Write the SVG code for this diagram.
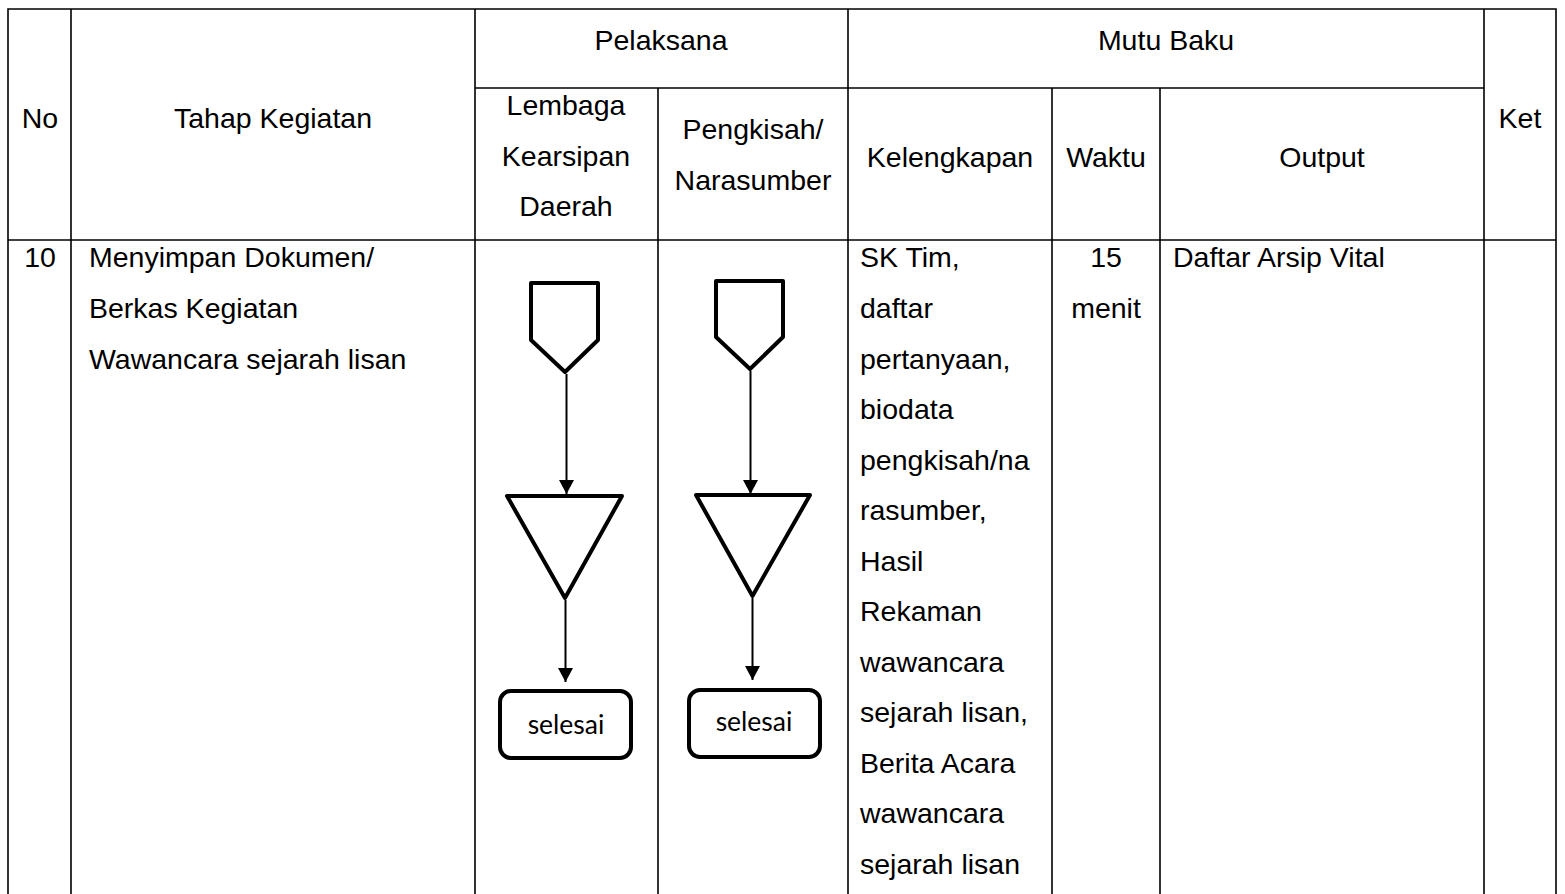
<svg xmlns="http://www.w3.org/2000/svg" width="1565" height="894" viewBox="0 0 1565 894">
<style>
.grid{stroke:#000;stroke-width:1.6;fill:none}
.t{font-family:"Liberation Sans",Arial,sans-serif;font-size:28.5px;fill:#000}
.c{text-anchor:middle}
.shape{fill:#fff;stroke:#000;stroke-width:4;stroke-linejoin:round}
.conn{stroke:#000;stroke-width:2;fill:none}
.lbl{font-family:Lato,"Open Sans",sans-serif;font-size:26.5px;fill:#000;text-anchor:middle}
</style>
<defs>
<marker id="arr" viewBox="0 0 14 15" refX="14" refY="7.5" markerWidth="14" markerHeight="15" markerUnits="userSpaceOnUse" orient="auto">
<path d="M0,0 L14,7.5 L0,15 Z" fill="#000"/>
</marker>
</defs>
<rect width="1565" height="894" fill="#fff"/>
<g id="table">
<path class="grid" d="M8,894 V9 H1556 V894 M71,9 V894 M475,9 V894 M848,9 V894 M1484,9 V894 M475,88 H1484 M658,88 V894 M1052,88 V894 M1160,88 V894 M8,240 H1556"/>
<text class="t c" x="40" y="128">No</text>
<text class="t c" x="273" y="128">Tahap Kegiatan</text>
<text class="t c" x="661" y="50">Pelaksana</text>
<text class="t c" x="1166" y="50">Mutu Baku</text>
<text class="t c" x="1520" y="128">Ket</text>
<text class="t c" x="566" y="115">Lembaga</text>
<text class="t c" x="566" y="166">Kearsipan</text>
<text class="t c" x="566" y="216">Daerah</text>
<text class="t c" x="753" y="139">Pengkisah/</text>
<text class="t c" x="753" y="190">Narasumber</text>
<text class="t c" x="950" y="167">Kelengkapan</text>
<text class="t c" x="1106" y="167">Waktu</text>
<text class="t c" x="1322" y="167">Output</text>
<text class="t c" x="40" y="267">10</text>
<text class="t" x="89" y="267">Menyimpan Dokumen/</text>
<text class="t" x="89" y="318">Berkas Kegiatan</text>
<text class="t" x="89" y="369">Wawancara sejarah lisan</text>
<text class="t" x="860" y="267">SK Tim,</text>
<text class="t" x="860" y="318">daftar</text>
<text class="t" x="860" y="368.5">pertanyaan,</text>
<text class="t" x="860" y="419">biodata</text>
<text class="t" x="860" y="469.5">pengkisah/na</text>
<text class="t" x="860" y="520">rasumber,</text>
<text class="t" x="860" y="570.5">Hasil</text>
<text class="t" x="860" y="621">Rekaman</text>
<text class="t" x="860" y="671.5">wawancara</text>
<text class="t" x="860" y="722">sejarah lisan,</text>
<text class="t" x="860" y="772.5">Berita Acara</text>
<text class="t" x="860" y="823">wawancara</text>
<text class="t" x="860" y="873.5">sejarah lisan</text>
<text class="t c" x="1106" y="267">15</text>
<text class="t c" x="1106" y="318">menit</text>
<text class="t" x="1173" y="267">Daftar Arsip Vital</text>
</g>
<g id="connectors">
<path class="conn" d="M566.5,374 V494" marker-end="url(#arr)"/>
<path class="conn" d="M750.5,371 V494" marker-end="url(#arr)"/>
<path class="conn" d="M565.5,600 V682" marker-end="url(#arr)"/>
<path class="conn" d="M752.5,598 V680" marker-end="url(#arr)"/>
</g>
<g id="offpage1"><polygon class="shape" points="531,283 598,283 598,340 565,372 531,340"/></g>
<g id="offpage2"><polygon class="shape" points="716,281 783,281 783,337 750,369 716,337"/></g>
<g id="store1"><polygon class="shape" points="507,496 622,496 565,598"/></g>
<g id="store2"><polygon class="shape" points="696,495 810,495 752.5,596"/></g>
<g id="end1"><rect class="shape" x="500" y="691" width="131" height="67" rx="11"/><text class="lbl" x="566" y="734">selesai</text></g>
<g id="end2"><rect class="shape" x="689" y="690" width="131" height="67" rx="11"/><text class="lbl" x="754" y="731">selesai</text></g>
</svg>
